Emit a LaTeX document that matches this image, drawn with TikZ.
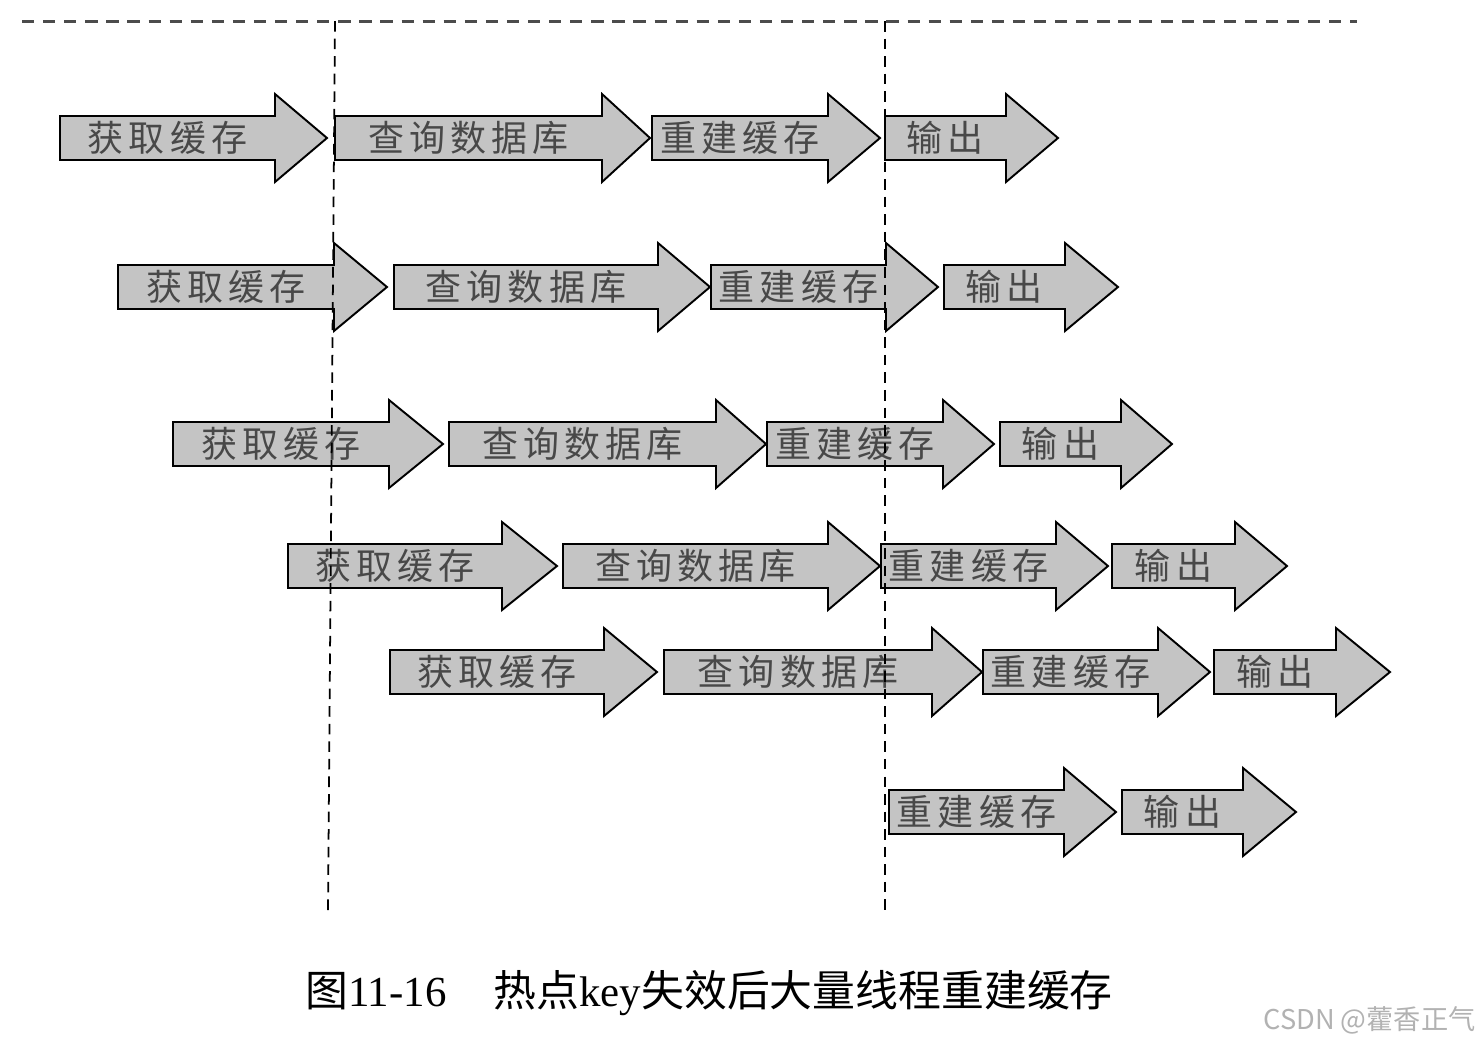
\documentclass[tikz,border=0pt]{standalone}
\usepackage{fontspec}
\setmainfont{Liberation Serif}
\newfontfamily\cjk{Noto Sans CJK SC}
\newfontfamily\cjkwide{Noto Sans CJK SC}[LetterSpace=14]

\definecolor{arrowgray}{RGB}{196,196,196}
\definecolor{labelgray}{RGB}{72,72,72}

\tikzset{
	stagearrow/.style={draw=black, line width=1.1pt, fill=arrowgray, line join=miter},
	stagetext/.style={font=\cjkwide\fontsize{20.5}{21}\selectfont, text=labelgray, inner sep=0pt},
	toptime/.style={draw=black!70, line width=1.7pt, dash pattern=on 7pt off 5pt},
	splitline/.style={draw=black, line width=1pt, dash pattern=on 6pt off 4pt},
	caption/.style={font=\fontsize{24.4}{25}\selectfont, inner sep=0pt},
	watermark/.style={font=\cjk\fontsize{15.5}{16}\selectfont, text=black!30, inner sep=0pt}
}

% one step of a thread: name, left, head start, tip, middle, label
\newcommand{\stage}[6]{%
	\draw[stagearrow] (#2,#5-22) -- (#3,#5-22) -- (#3,#5-44) -- (#4,#5)
		-- (#3,#5+44) -- (#3,#5+22) -- (#2,#5+22) -- cycle;
	\node[stagetext] (#1) at ({(#2+#3)/2},#5) {#6};
}

\begin{document}
\begin{tikzpicture}[x=0.02cm, y=-0.02cm]
	\useasboundingbox (0,0) rectangle (1480,1046);

	\foreach \name/\xl/\xh/\xt/\y/\txt in {
		get1/60/275/327/138/获取缓存, query1/335/602/650/138/查询数据库,
		rebuild1/652/828/880/138/重建缓存, output1/885/1006/1058/138/输出,
		get2/118/334/387/287/获取缓存, query2/394/658/710/287/查询数据库,
		rebuild2/711/886/938/287/重建缓存, output2/944/1065/1118/287/输出,
		get3/173/389/443/444/获取缓存, query3/449/716/766/444/查询数据库,
		rebuild3/767/943/994/444/重建缓存, output3/1000/1121/1172/444/输出,
		get4/288/502/557/566/获取缓存, query4/563/828/880/566/查询数据库,
		rebuild4/881/1056/1108/566/重建缓存, output4/1112/1235/1287/566/输出,
		get5/390/604/657/672/获取缓存, query5/664/932/982/672/查询数据库,
		rebuild5/983/1158/1210/672/重建缓存, output5/1214/1336/1390/672/输出,
		rebuild6/889/1064/1116/812/重建缓存, output6/1122/1243/1296/812/输出}{
		\stage{\name}{\xl}{\xh}{\xt}{\y}{\txt}
	}

	% time line and the two cuts
	\draw[toptime] (22,21) -- (1357,21);
	\draw[splitline] (335,21) -- (328,912);
	\draw[splitline] (885,21) -- (885,915);

	\node[caption] (title) at (709,993) {{\cjk 图}11-16\hspace{1.1em}{\cjk 热点}key{\cjk 失效后大量线程重建缓存}};
	\node[watermark, anchor=east] (mark) at (1476,1020) {CSDN @藿香正气};
\end{tikzpicture}
\end{document}
